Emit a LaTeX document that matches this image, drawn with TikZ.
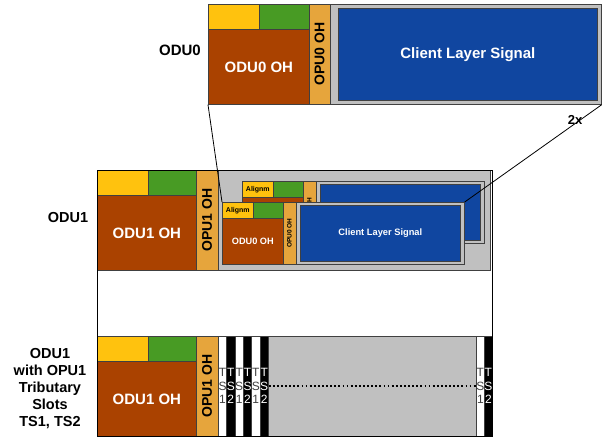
\documentclass[tikz,border=0pt]{standalone}
\usepackage{fontspec}
\setmainfont{Liberation Sans}
\usetikzlibrary{positioning}
\definecolor{ohyellow}{RGB}{255,194,14}
\definecolor{ohgreen}{RGB}{72,155,36}
\definecolor{oduoh}{RGB}{170,66,0}
\definecolor{opuoh}{RGB}{230,165,60}
\definecolor{payload}{RGB}{192,192,192}
\definecolor{client}{RGB}{16,70,160}

\begin{document}
\begin{tikzpicture}[x=1pt, y=-1pt,
  field/.style={draw=black!75, line width=0.7pt, inner sep=0pt, anchor=north west},
  vfield/.style={draw=black!75, line width=0.7pt, inner sep=0pt, rotate=90, fill=opuoh},
  slot/.style={field, minimum height=100pt, align=center, font=\fontsize{12}{13.5}\selectfont},
  sidetext/.style={align=center, font=\bfseries\fontsize{14.5}{17}\selectfont}
]
  \useasboundingbox (0,0) rectangle (608,440);

  % ODU0 alone
  \node[field, fill=ohyellow, minimum width=51pt, minimum height=25pt] (yel0) at (208,4) {};
  \node[field, fill=ohgreen, minimum width=50pt, minimum height=25pt] (grn0) at (259,4) {};
  \node[field, fill=oduoh, minimum width=101pt, minimum height=75pt, text=white, font=\bfseries\fontsize{15}{18}\selectfont] (oh0) at (208,29) {ODU0 OH};
  \node[vfield, minimum width=100pt, minimum height=21pt, font=\bfseries\fontsize{14}{16}\selectfont] (opu0) at (319.5,54) {OPU0 OH};
  \node[field, fill=payload, minimum width=271pt, minimum height=100pt] (pay0) at (330,4) {};
  \node[field, fill=client, minimum width=259pt, minimum height=92pt, text=white, font=\bfseries\fontsize{15}{18}\selectfont] (cls0) at (338,8) {Client Layer Signal};

  % ODU1 carrying two ODU0
  \node[field, fill=ohyellow, minimum width=51pt, minimum height=25pt] (yel1) at (97,170) {};
  \node[field, fill=ohgreen, minimum width=48pt, minimum height=25pt] (grn1) at (148,170) {};
  \node[field, fill=oduoh, minimum width=99pt, minimum height=75pt, text=white, font=\bfseries\fontsize{15}{18}\selectfont] (oh1) at (97,195) {ODU1 OH};
  \node[vfield, minimum width=100pt, minimum height=22pt, font=\bfseries\fontsize{14}{16}\selectfont] (opu1) at (207,220) {OPU1 OH};
  \node[field, fill=payload, minimum width=272pt, minimum height=100pt] (pay1) at (218,170) {};

  % back ODU0
  \node[field, fill=ohyellow, minimum width=31pt, minimum height=16pt, font=\bfseries\fontsize{7}{8}\selectfont] (byel) at (242,181) {Alignm};
  \node[field, fill=ohgreen, minimum width=30pt, minimum height=16pt] (bgrn) at (273,181) {};
  \node[field, fill=oduoh, minimum width=61pt, minimum height=46pt] (boh) at (242,197) {};
  \node[vfield, minimum width=62pt, minimum height=13pt, font=\bfseries\fontsize{6.5}{7}\selectfont] (bopu) at (309.5,212) {OPU0 OH};
  \node[field, fill=payload, minimum width=168pt, minimum height=62pt] (bpay) at (316,181) {};
  \node[field, fill=client, minimum width=160pt, minimum height=56pt] (bcls) at (320,184) {};

  % front ODU0
  \node[field, fill=ohyellow, minimum width=31pt, minimum height=16pt, font=\bfseries\fontsize{7}{8}\selectfont] (fyel) at (222,202) {Alignm};
  \node[field, fill=ohgreen, minimum width=30pt, minimum height=16pt] (fgrn) at (253,202) {};
  \node[field, fill=oduoh, minimum width=61pt, minimum height=46pt, text=white, font=\bfseries\fontsize{9.2}{11}\selectfont] (foh) at (222,218) {ODU0 OH};
  \node[vfield, minimum width=62pt, minimum height=13pt, font=\bfseries\fontsize{6.5}{7}\selectfont] (fopu) at (289.5,233) {OPU0 OH};
  \node[field, fill=payload, minimum width=168pt, minimum height=62pt] (fpay) at (296,202) {};
  \node[field, fill=client, minimum width=160pt, minimum height=56pt, text=white, font=\bfseries\fontsize{9.3}{11}\selectfont] (fcls) at (300,205) {Client Layer Signal};

  % ODU1 with tributary slots
  \node[field, fill=ohyellow, minimum width=51pt, minimum height=25pt] (yel2) at (97,336) {};
  \node[field, fill=ohgreen, minimum width=48pt, minimum height=25pt] (grn2) at (148,336) {};
  \node[field, fill=oduoh, minimum width=99pt, minimum height=75pt, text=white, font=\bfseries\fontsize{15}{18}\selectfont] (oh2) at (97,361) {ODU1 OH};
  \node[vfield, minimum width=100pt, minimum height=22pt, font=\bfseries\fontsize{14}{16}\selectfont] (opu2) at (207,386) {OPU1 OH};
  \node[slot, fill=white, text=black!75, minimum width=8.3pt] (ts1) at (218,336) {T\\S\\1};
  \node[slot, fill=black, text=white, minimum width=8.3pt] (ts2) at (226.3,336) {T\\S\\2};
  \node[slot, fill=white, text=black!75, minimum width=8.3pt] (ts3) at (234.7,336) {T\\S\\1};
  \node[slot, fill=black, text=white, minimum width=8.3pt] (ts4) at (243,336) {T\\S\\2};
  \node[slot, fill=white, text=black!75, minimum width=8.3pt] (ts5) at (251.3,336) {T\\S\\1};
  \node[slot, fill=black, text=white, minimum width=8.3pt] (ts6) at (259.7,336) {T\\S\\2};
  \node[field, fill=payload, minimum width=208pt, minimum height=100pt] (pay2) at (268,336) {};
  \node[slot, fill=white, text=black!75, minimum width=8pt] (ts7) at (476,336) {T\\S\\1};
  \node[slot, fill=black, text=white, minimum width=7pt] (ts8) at (484,336) {T\\S\\2};
  \draw[black, line width=1.8pt, dash pattern=on 1.8pt off 2.3pt] (ts6.east) -- (ts7.west);

  % outer frame
  \draw[line width=1pt] (yel1.north west) rectangle (ts8.south east);

  % side labels
  \node[sidetext, font=\bfseries\fontsize{15}{17}\selectfont] (lbl0) at (180,50) {ODU0};
  \node[sidetext] (lbl1) at (68,218) {ODU1};
  \node[sidetext] (lbl2) at (50,389) {ODU1\\with OPU1\\Tributary\\Slots\\TS1, TS2};
  \node[font=\bfseries\fontsize{13}{15}\selectfont] (twox) at (575,120) {2x};

  % zoom lines
  \draw[line width=0.8pt] (oh0.south west) -- (fyel.north west);
  \draw[line width=0.8pt] (pay0.south east) -- (fpay.north east);
\end{tikzpicture}
\end{document}
